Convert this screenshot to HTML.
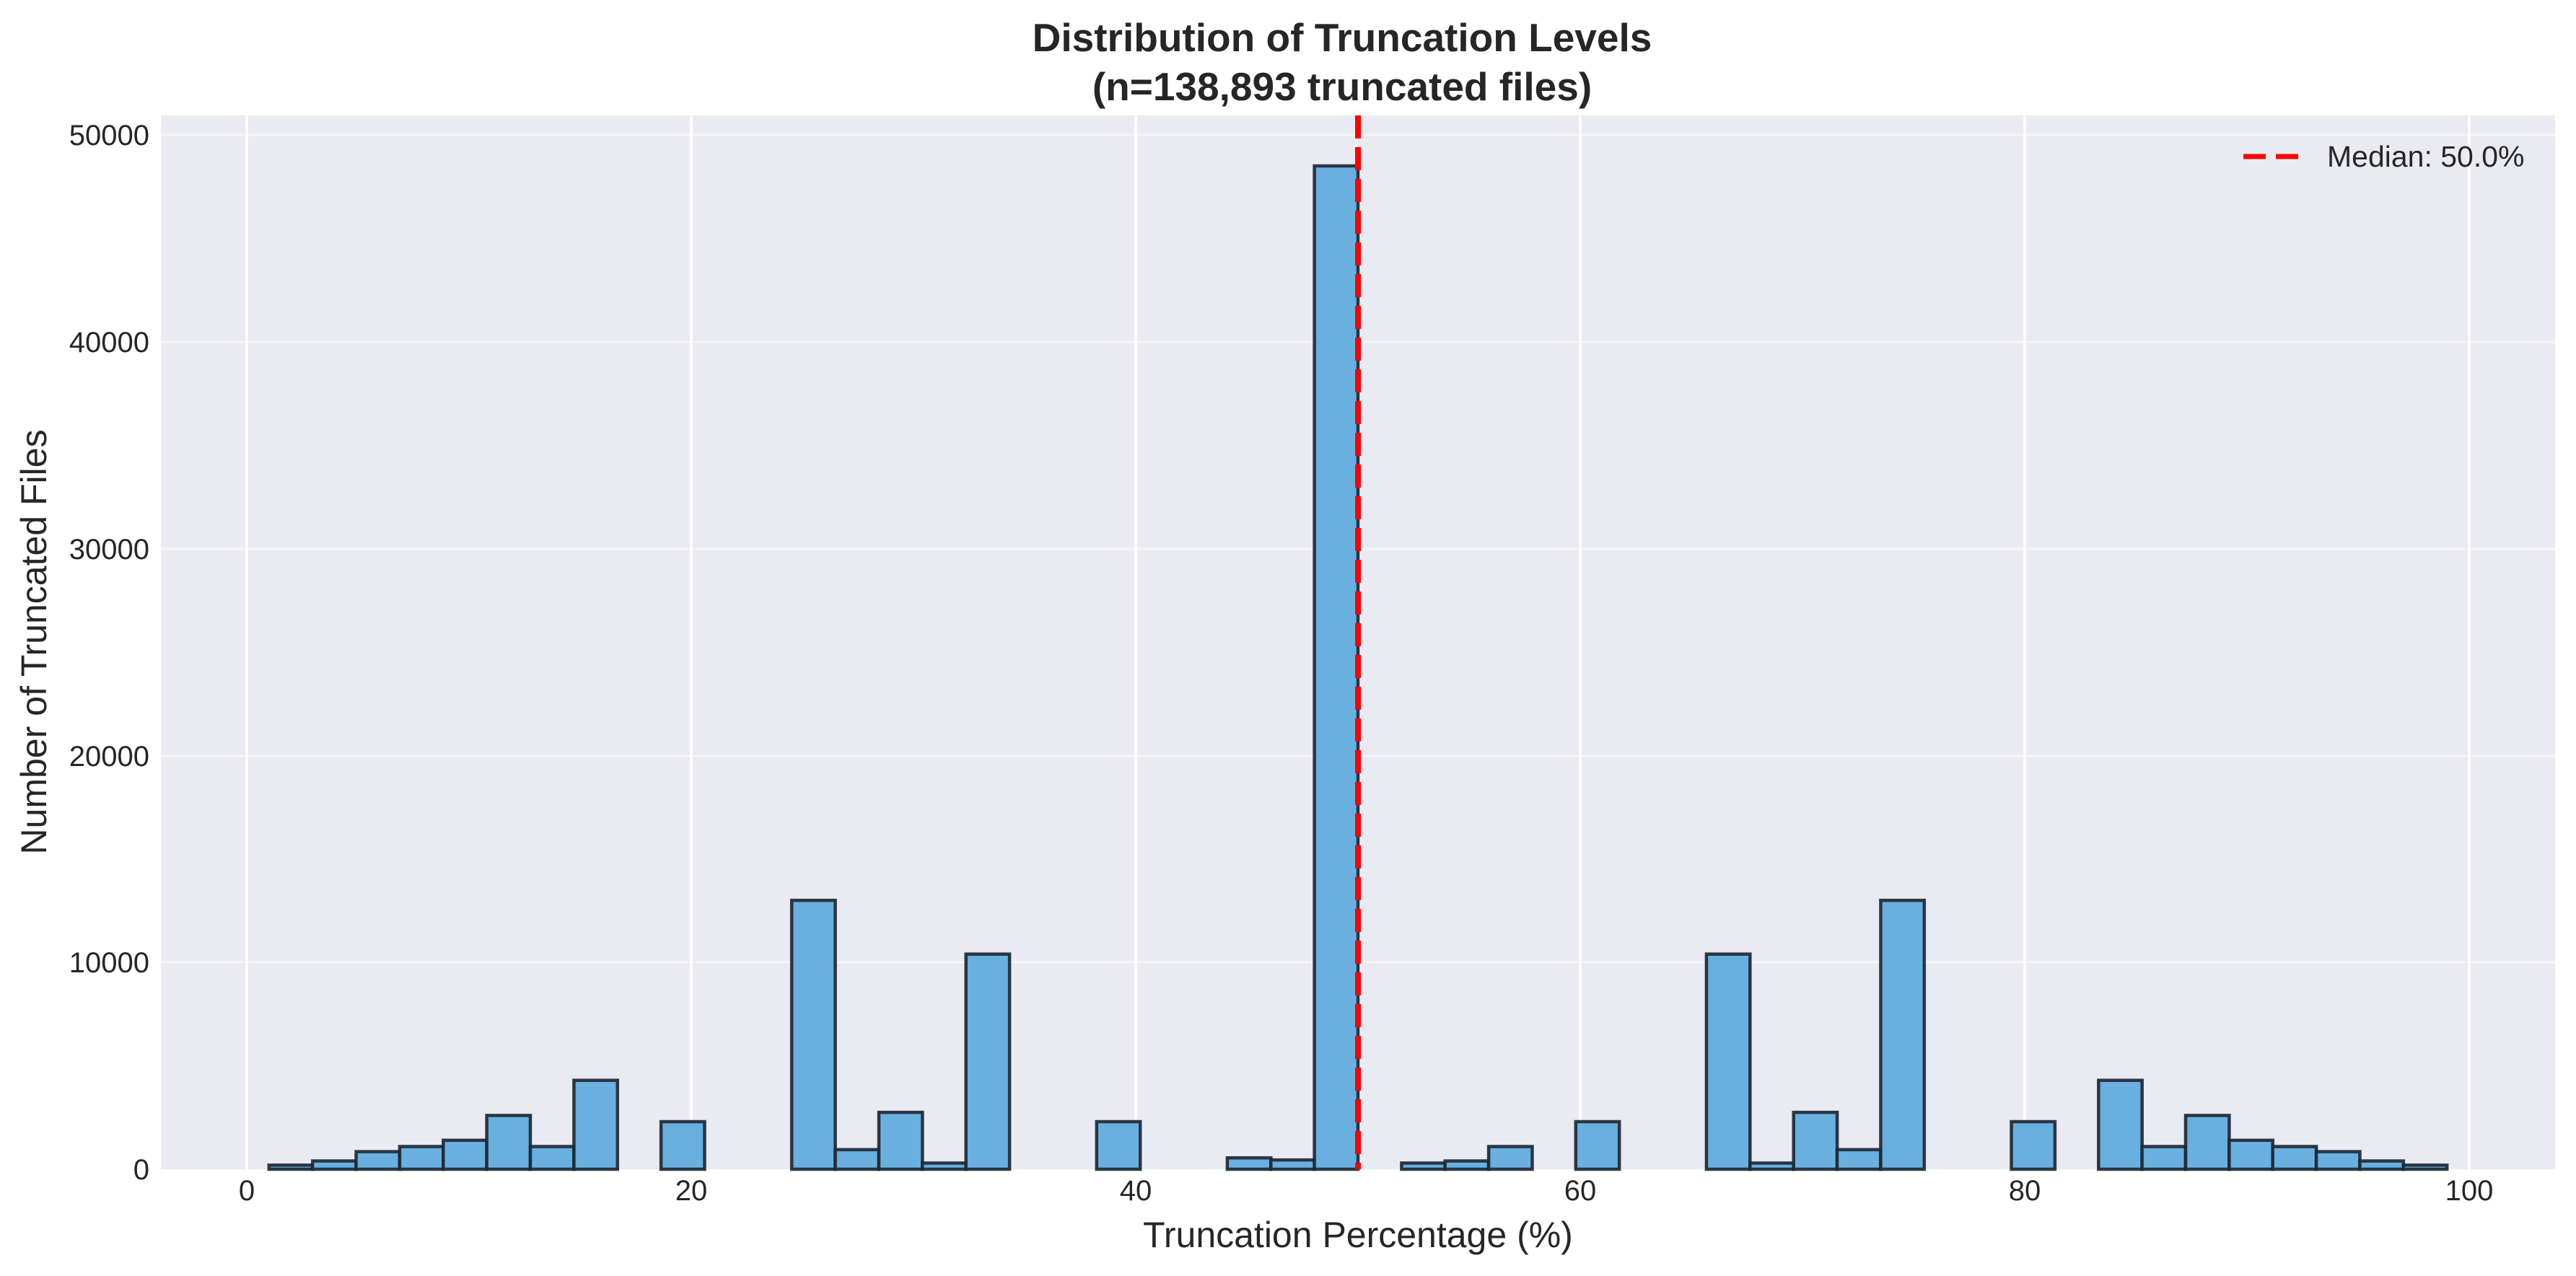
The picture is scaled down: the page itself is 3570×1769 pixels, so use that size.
<!DOCTYPE html>
<html><head><meta charset="utf-8"><style>
html,body{margin:0;padding:0;background:#fff;}
svg{display:block;font-family:"Liberation Sans",Arial,sans-serif;}
</style></head><body>
<svg id="s" width="3570" height="1769" xmlns="http://www.w3.org/2000/svg">
<rect x="223" y="160" width="3318" height="1461" fill="#eaeaf2"/>
<g stroke="#f5f5f8" stroke-width="3">
<line x1="223" x2="3541" y1="1334" y2="1334"/>
<line x1="223" x2="3541" y1="1048" y2="1048"/>
<line x1="223" x2="3541" y1="761" y2="761"/>
<line x1="223" x2="3541" y1="474" y2="474"/>
<line x1="223" x2="3541" y1="187" y2="187"/>
</g>
<g stroke="#ffffff" stroke-width="3.5">
<line x1="342" x2="342" y1="160" y2="1621"/>
<line x1="958" x2="958" y1="160" y2="1621"/>
<line x1="1574" x2="1574" y1="160" y2="1621"/>
<line x1="2190" x2="2190" y1="160" y2="1621"/>
<line x1="2806" x2="2806" y1="160" y2="1621"/>
<line x1="3422" x2="3422" y1="160" y2="1621"/>
</g>
<g id="bars" fill="#69afe0" stroke="#1c2630" stroke-width="4.5" stroke-opacity="0.9"></g>
<line x1="1882" x2="1882" y1="160" y2="1621" stroke="#ff0000" stroke-width="8" stroke-dasharray="32,12"/>
<g font-size="40" fill="#262626" text-anchor="middle">
<text x="342" y="1664">0</text>
<text x="958" y="1664">20</text>
<text x="1574" y="1664">40</text>
<text x="2190" y="1664">60</text>
<text x="2806" y="1664">80</text>
<text x="3422" y="1664">100</text>
</g>
<g font-size="40" fill="#262626" text-anchor="end">
<text x="207" y="1635">0</text>
<text x="207" y="1348">10000</text>
<text x="207" y="1062">20000</text>
<text x="207" y="775">30000</text>
<text x="207" y="488">40000</text>
<text x="207" y="201">50000</text>
</g>
<text x="1882" y="1729" font-size="50" fill="#262626" text-anchor="middle">Truncation Percentage (%)</text>
<text transform="translate(64,890) rotate(-90)" font-size="50" fill="#262626" text-anchor="middle">Number of Truncated Files</text>
<g font-size="55" font-weight="bold" fill="#262626" text-anchor="middle">
<text x="1860" y="71">Distribution of Truncation Levels</text>
<text x="1860" y="139">(n=138,893 truncated files)</text>
</g>
<line x1="3109" x2="3194" y1="217" y2="217" stroke="#ff0000" stroke-width="7" stroke-dasharray="31,14"/>
<text x="3225" y="231" font-size="41" fill="#262626">Median: 50.0%</text>
</svg>
<script>
var h=[200,400,850,1100,1400,2600,1100,4300,0,2300,0,0,13000,950,2750,300,10400,0,0,2300,0,0,550,450,48500,
0,300,400,1100,0,2300,0,0,10400,300,2750,950,13000,0,0,2300,0,4300,1100,2600,1400,1100,850,400,200];
var g=document.getElementById('bars'),s='';
for(var i=0;i<50;i++){if(!h[i])continue;var x0=342+(1+i*1.96)*30.8,x1=342+(1+(i+1)*1.96)*30.8,hh=h[i]*0.02868;
s+='<rect x="'+x0.toFixed(1)+'" y="'+(1621-hh).toFixed(1)+'" width="'+(x1-x0).toFixed(1)+'" height="'+hh.toFixed(1)+'"/>';}
g.innerHTML=s;
</script>
</body></html>
